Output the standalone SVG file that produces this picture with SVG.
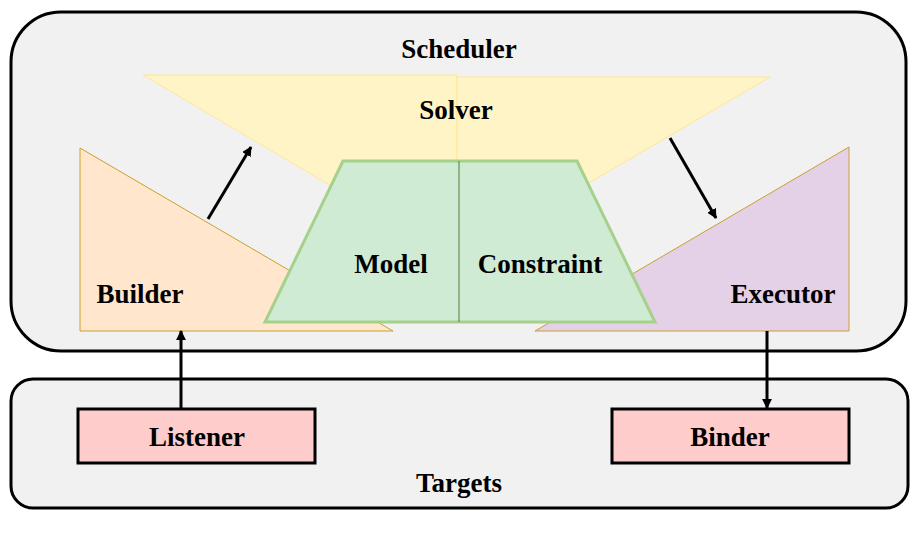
<svg xmlns="http://www.w3.org/2000/svg" width="923" height="533" viewBox="0 0 923 533">
<style>
.lbl{font-family:"Liberation Serif","Times New Roman",serif;font-weight:bold;font-size:27px;fill:#000;text-anchor:middle}
.cont{fill:#f1f1f1;stroke:#000;stroke-width:3}
.box{fill:#ffcccc;stroke:#000;stroke-width:3}
.tri{stroke:#c9a030;stroke-width:1}
.conn{stroke:#000;stroke-width:3;fill:none;marker-end:url(#ah)}
</style>
<defs>
<marker id="ah" viewBox="0 0 10 10" refX="9" refY="5" markerWidth="3.3" markerHeight="3.3" orient="auto" markerUnits="strokeWidth">
<path d="M0,0 L10,5 L0,10 Z" fill="#000"/>
</marker>
</defs>
<rect width="923" height="533" fill="#fff"/>
<g id="scheduler">
<rect class="cont" x="11" y="12" width="895" height="339" rx="50" ry="50"/>
<text class="lbl" x="459" y="58">Scheduler</text>
</g>
<g id="targets">
<rect class="cont" x="11" y="379" width="897" height="129" rx="22" ry="22"/>
<text class="lbl" x="459" y="492">Targets</text>
</g>
<g id="solver">
<polygon points="143,75 457,75 457,260" fill="#fff4c6" stroke="#ffe699" stroke-width="1"/>
<polygon points="457,77 770,77 457,260" fill="#fff4c6" stroke="#ffe699" stroke-width="1"/>
<text class="lbl" x="456" y="119">Solver</text>
</g>
<g id="builder">
<polygon class="tri" points="80,148 80,331 393,331" fill="#ffe6cc"/>
<text class="lbl" x="140" y="303">Builder</text>
</g>
<g id="executor">
<polygon class="tri" points="849,147 849,331 535,331" fill="#e4d0e7"/>
<text class="lbl" x="783" y="303">Executor</text>
</g>
<g id="model-constraint">
<polygon points="343,161 577,161 655,322 265,322" fill="#d0ebd3" stroke="#a6d18c" stroke-width="3"/>
<line x1="459" y1="161" x2="459" y2="322" stroke="#4f7f3a" stroke-width="1"/>
<text class="lbl" x="391" y="273">Model</text>
<text class="lbl" x="540" y="273">Constraint</text>
</g>
<g id="listener">
<rect class="box" x="78" y="409" width="237" height="54"/>
<text class="lbl" x="197" y="446">Listener</text>
</g>
<g id="binder">
<rect class="box" x="612" y="409" width="237" height="54"/>
<text class="lbl" x="730" y="446">Binder</text>
</g>
<g id="connectors">
<line class="conn" x1="208" y1="219" x2="251" y2="147"/>
<line class="conn" x1="670" y1="138" x2="716" y2="218"/>
<line class="conn" x1="181" y1="408" x2="181" y2="331"/>
<line class="conn" x1="767" y1="331" x2="767" y2="408"/>
</g>
</svg>
